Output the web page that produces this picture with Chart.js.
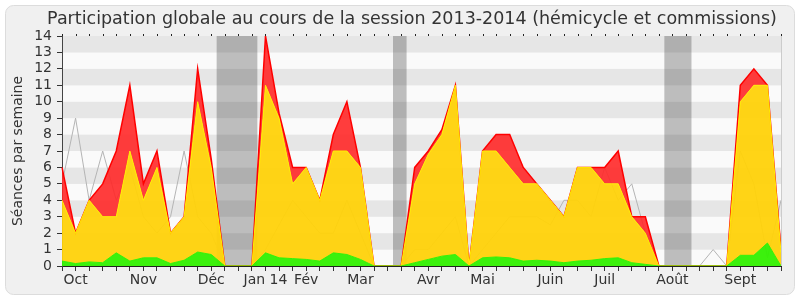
<!DOCTYPE html>
<html><head><meta charset="utf-8">
<script src="https://cdn.jsdelivr.net/npm/chart.js@4/dist/chart.umd.min.js"></script>
<style>html,body{margin:0;padding:0;background:#fff;}canvas{display:block;}</style>
</head><body>
<canvas id="c" width="800" height="300"></canvas>
<script>
const chartTitle = 'Participation globale au cours de la session 2013-2014 (hémicycle et commissions)';
const yTitle = 'Séances par semaine';
const weekLabels = ['', 'Oct', '', '', '', '', 'Nov', '', '', '', '', 'Déc', '', '', '',
  'Jan 14', '', '', 'Fév', '', '', '', 'Mar', '', '', '', '', 'Avr', '', '', '',
  'Mai', '', '', '', '', 'Juin', '', '', '', 'Juil', '', '', '', '',
  'Août', '', '', '', '', 'Sept', '', '', ''];
// cumulative stacks
const greenVals  = [0.3,0.15,0.25,0.2,0.8,0.3,0.5,0.5,0.15,0.35,0.85,0.7,0,0,0,
  0.8,0.5,0.45,0.4,0.3,0.8,0.7,0.4,0,0,0,0.2,0.4,0.6,0.7,0,
  0.5,0.55,0.5,0.3,0.35,0.3,0.2,0.3,0.35,0.45,0.5,0.2,0.1,0,0,0,0,0,0,0.65,0.65,1.4,0];
const yellowVals = [4,2,4,3,3,7,4,6,2,3,10,6,0,0,0,
  11,9,5,6,4,7,7,6,0,0,0,5,6.8,8,11,0,
  7,7,6,5,5,4,3,6,6,5,5,3,2,0,0,0,0,0,0,10,11,11,0.8];
const redVals    = [6,2,4,5,7,11,5,7,2,3,12,6.5,0,0,0,
  14,9.3,6,6,4,8,10,6,0,0,0,6,7,8.3,11,0,
  7,8,8,6,5,4,3,6,6,6,7,3,3,0,0,0,0,0,0,11,12,11,1];
const greyVals   = [5,9,4,7,4,6,3,2,3,7,3,2,0,0,0,
  1,2.5,4,3,2,2,4,2,0,0,0,1,1,2,3,0,
  1,2,3,3,3,2.5,4,4,3,6,4,5,2,0,0,0,0,1,0,7,5,0.5,4];
const holidayBands = [[11.4,14.4],[24.4,25.4],[44.4,46.4]];
const yMax = 14;

const FONT = '"DejaVu Sans", Verdana, sans-serif';

const decor = {
  id: 'decor',
  beforeDraw(chart) {
    const ctx = chart.ctx, a = chart.chartArea, ys = chart.scales.y, xs = chart.scales.x;
    ctx.save();
    ctx.fillStyle = '#f0f0f0';
    ctx.strokeStyle = '#dcdcdc';
    ctx.lineWidth = 1;
    ctx.beginPath();
    ctx.roundRect(5.5, 5.5, 789, 289, 8);
    ctx.fill(); ctx.stroke();
    for (let v = 0; v < yMax; v++) {
      const y1 = ys.getPixelForValue(v + 1), y0 = ys.getPixelForValue(v);
      ctx.fillStyle = (v % 2 === 1) ? '#e6e6e6' : '#fafafa';
      ctx.fillRect(a.left, y1, a.right - a.left, y0 - y1);
    }
    ctx.fillStyle = 'rgba(50,50,50,0.3)';
    holidayBands.forEach(([s, e]) => {
      const x0 = xs.getPixelForValue(s), x1 = xs.getPixelForValue(e);
      ctx.fillRect(x0, a.top, x1 - x0, a.bottom - a.top);
    });
    ctx.restore();
  },
  afterDraw(chart) {
    const ctx = chart.ctx, a = chart.chartArea, xs = chart.scales.x;
    ctx.save();
    ctx.fillStyle = '#333';
    ctx.font = '17.5px ' + FONT;
    ctx.textAlign = 'center';
    ctx.textBaseline = 'middle';
    ctx.fillText(chartTitle, 412, 19);
    ctx.fillStyle = '#222';
    for (let i = 0; i < weekLabels.length; i++) {
      const x = Math.round(xs.getPixelForValue(i));
      ctx.fillRect(x, a.top - 2, 1, 2);
    }
    ctx.strokeStyle = '#cccccc';
    ctx.beginPath();
    ctx.moveTo(Math.round(a.right) + 0.5, a.top);
    ctx.lineTo(Math.round(a.right) + 0.5, a.bottom);
    ctx.stroke();
    ctx.restore();
  }
};

new Chart(document.getElementById('c'), {
  type: 'line',
  data: {
    labels: weekLabels,
    datasets: [
      { data: greyVals, borderColor: '#b4b4b4', borderWidth: 1, fill: false, pointRadius: 0, order: 4 },
      { data: redVals, borderColor: '#ff0000', borderWidth: 1.5, backgroundColor: 'rgba(255,40,40,0.9)', fill: 2, pointRadius: 0, order: 3 },
      { data: yellowVals, borderColor: '#ffee00', borderWidth: 1, backgroundColor: 'rgba(255,210,10,0.95)', fill: 3, pointRadius: 0, order: 2 },
      { data: greenVals, borderColor: 'rgba(50,240,0,0.95)', borderWidth: 1, backgroundColor: 'rgba(50,240,0,0.95)', fill: 'origin', pointRadius: 0, order: 1 }
    ]
  },
  options: {
    responsive: false,
    animation: false,
    devicePixelRatio: 1,
    layout: { padding: { top: 36, right: 19, left: 0, bottom: 0 } },
    elements: { line: { tension: 0 } },
    plugins: { legend: { display: false }, tooltip: { enabled: false }, title: { display: false } },
    scales: {
      x: {
        type: 'category',
        offset: false,
        grid: { drawOnChartArea: false, drawTicks: true, tickLength: 5, color: '#333' },
        border: { color: '#222', width: 1 },
        ticks: { autoSkip: false, maxRotation: 0, padding: 1, color: '#333', font: { family: FONT, size: 14 } },
        afterFit(s) { s.height = 34; }
      },
      y: {
        min: 0, max: yMax,
        grid: { drawOnChartArea: false, drawTicks: true, tickLength: 5, color: '#333' },
        border: { color: '#444', width: 1 },
        ticks: { stepSize: 1, autoSkip: false, padding: 5, color: '#333', font: { family: FONT, size: 14 } },
        title: { display: true, text: yTitle, color: '#333', font: { family: FONT, size: 14 }, padding: { top: 10, bottom: 0 } },
        afterFit(s) { s.width = 62; }
      }
    }
  },
  plugins: [decor]
});
</script>
</body></html>
